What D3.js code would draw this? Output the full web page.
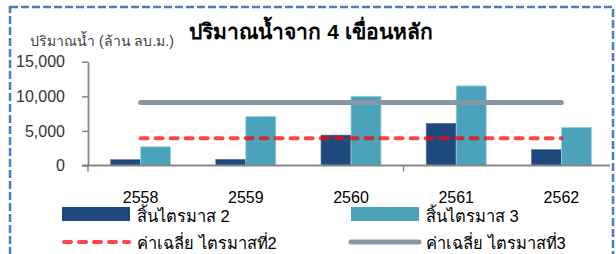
<!DOCTYPE html>
<html>
<head>
<meta charset="utf-8">
<script src="https://cdn.jsdelivr.net/npm/d3@7"></script>
<style>
  html, body { margin: 0; padding: 0; background: #fff; }
  svg { display: block; }
  text { font-family: "Liberation Sans", Arial, sans-serif; }
</style>
</head>
<body>
<div id="chart"></div>
<script>
// data
const years = ['2558', '2559', '2560', '2561', '2562'];
const endQ2 = [850, 900, 4400, 6100, 2300];
const endQ3 = [2700, 7100, 10000, 11500, 5500];
const avgQ2 = 3950;
const avgQ3 = 9100;
const yTicks = [0, 5000, 10000, 15000];
const seriesNames = ['สิ้นไตรมาส 2', 'สิ้นไตรมาส 3'];
const lineNames = ['ค่าเฉลี่ย ไตรมาสที่2', 'ค่าเฉลี่ย ไตรมาสที่3'];

const width = 616, height = 254;
const colors = { q2: '#1f497d', q3: '#4aa3bb', avg2: 'rgba(255,0,0,0.73)', avg3: '#8599a2' };

const svg = d3.select('#chart').append('svg')
  .attr('width', width)
  .attr('height', height);

// dashed frame
svg.append('rect')
  .attr('x', 10).attr('y', 7)
  .attr('width', 603).attr('height', 280)
  .attr('fill', 'none')
  .attr('stroke', '#4a7ec4')
  .attr('stroke-width', 2.5)
  .attr('stroke-dasharray', '8,3');

const x = d3.scaleBand().domain(years).range([88, 614]);
const x1 = d3.scaleBand().domain(['q2', 'q3']).range([0, x.bandwidth()]).paddingOuter(0.753);
const y = d3.scaleLinear().domain([0, 15000]).range([165.5, 61.7]);

// title + y label
svg.append('text')
  .attr('x', 311).attr('y', 39)
  .attr('text-anchor', 'middle')
  .attr('font-size', 21).attr('font-weight', 'bold')
  .attr('fill', '#000')
  .text('ปริมาณน้ำจาก 4 เขื่อนหลัก');

svg.append('text')
  .attr('x', 30).attr('y', 46)
  .attr('font-size', 14)
  .attr('fill', '#404040')
  .text('ปริมาณน้ำ (ล้าน ลบ.ม.)');

// bars
const groups = svg.selectAll('g.year')
  .data(years)
  .enter().append('g')
  .attr('class', 'year')
  .attr('transform', d => 'translate(' + x(d) + ',0)');

groups.append('rect')
  .attr('x', x1('q2'))
  .attr('y', (d, i) => y(endQ2[i]))
  .attr('width', x1.bandwidth())
  .attr('height', (d, i) => y(0) - y(endQ2[i]))
  .attr('fill', colors.q2)
  .attr('stroke', '#5a7aa0').attr('stroke-width', 0.6);

groups.append('rect')
  .attr('x', x1('q3'))
  .attr('y', (d, i) => y(endQ3[i]))
  .attr('width', x1.bandwidth())
  .attr('height', (d, i) => y(0) - y(endQ3[i]))
  .attr('fill', colors.q3)
  .attr('stroke', '#9fd0de').attr('stroke-width', 0.8);

// axes
const yAxis = svg.append('g')
  .attr('transform', 'translate(88,0)')
  .call(d3.axisLeft(y).tickValues(yTicks).tickSize(6).tickSizeOuter(0).tickFormat(d3.format(',')));
yAxis.select('.domain').attr('stroke', '#868686').attr('stroke-width', 1.8);
yAxis.selectAll('.tick line').attr('stroke', '#868686').attr('stroke-width', 1.5);
yAxis.selectAll('.tick text')
  .attr('x', -23)
  .attr('font-size', 16)
  .attr('font-family', '"Liberation Sans", Arial, sans-serif')
  .attr('fill', '#333');

const xAxis = svg.append('g')
  .attr('transform', 'translate(0,' + y(0) + ')');
xAxis.append('line')
  .attr('x1', 82).attr('x2', 610)
  .attr('stroke', '#868686').attr('stroke-width', 1.8);
xAxis.selectAll('line.tick')
  .data([years[0], years[3]])
  .enter().append('line')
  .attr('class', 'tick')
  .attr('x1', d => x(d)).attr('x2', d => x(d))
  .attr('y1', 0).attr('y2', 6)
  .attr('stroke', '#868686').attr('stroke-width', 1.5);
xAxis.selectAll('text')
  .data(years)
  .enter().append('text')
  .attr('x', d => x(d) + x.bandwidth() / 2)
  .attr('y', 37.5)
  .attr('text-anchor', 'middle')
  .attr('font-size', 16)
  .attr('fill', '#000')
  .text(d => d);

// average lines
const xStart = x(years[0]) + x.bandwidth() / 2;
const xEnd = x(years[years.length - 1]) + x.bandwidth() / 2;

svg.append('line')
  .attr('x1', xStart).attr('x2', xEnd)
  .attr('y1', y(avgQ3)).attr('y2', y(avgQ3))
  .attr('stroke', colors.avg3).attr('stroke-width', 5)
  .attr('stroke-linecap', 'round');

svg.append('line')
  .attr('x1', xStart).attr('x2', xEnd)
  .attr('y1', y(avgQ2)).attr('y2', y(avgQ2))
  .attr('stroke', colors.avg2).attr('stroke-width', 4)
  .attr('stroke-linecap', 'round')
  .attr('stroke-dasharray', '7,8');

// legend
const legend = svg.append('g');
const legendCols = [62, 351];

legend.selectAll('rect')
  .data(['q2', 'q3'])
  .enter().append('rect')
  .attr('x', (d, i) => legendCols[i])
  .attr('y', 207)
  .attr('width', 68).attr('height', 14)
  .attr('fill', d => colors[d]);

legend.append('line')
  .attr('x1', 64).attr('x2', 129)
  .attr('y1', 242).attr('y2', 242)
  .attr('stroke', colors.avg2).attr('stroke-width', 4)
  .attr('stroke-linecap', 'round')
  .attr('stroke-dasharray', '7,8');

legend.append('line')
  .attr('x1', 351).attr('x2', 419)
  .attr('y1', 242).attr('y2', 242)
  .attr('stroke', colors.avg3).attr('stroke-width', 5)
  .attr('stroke-linecap', 'round');

legend.selectAll('text.series')
  .data(seriesNames)
  .enter().append('text')
  .attr('class', 'series')
  .attr('x', (d, i) => legendCols[i] + 75)
  .attr('y', 222)
  .attr('font-size', 16.5)
  .attr('fill', '#000')
  .text(d => d);

legend.selectAll('text.lines')
  .data(lineNames)
  .enter().append('text')
  .attr('class', 'lines')
  .attr('x', (d, i) => legendCols[i] + 75)
  .attr('y', 249)
  .attr('font-size', 16.5)
  .attr('fill', '#000')
  .text(d => d);
</script>
</body>
</html>
